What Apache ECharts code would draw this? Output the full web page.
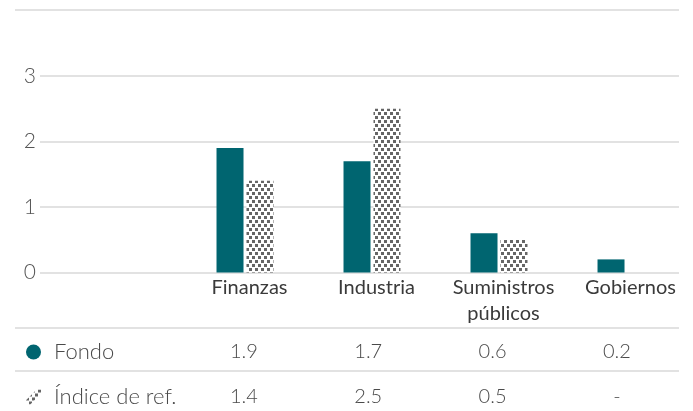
<!DOCTYPE html>
<html><head><meta charset="utf-8">
<script src="https://cdn.jsdelivr.net/npm/echarts@6/dist/echarts.min.js"></script>
<style>html,body{margin:0;padding:0;background:#fff}#c{width:693px;height:411px}</style>
</head><body><div id="c"></div>
<script>
// ---- data ----
const categories = ['Finanzas', 'Industria', 'Suministros\npúblicos', 'Gobiernos'];
const fondo = [1.9, 1.7, 0.6, 0.2];
const indice = [1.4, 2.5, 0.5, null];
const seriesNames = ['Fondo', 'Índice de ref.'];
const yTicks = [0, 1, 2, 3];

// ---- styles ----
const TEAL = '#006570';
const FONT = 'Lato';
const GRID_C = '#e2e2e2';

function makePattern() {
  const c = document.createElement('canvas');
  c.width = 6; c.height = 8;
  const g = c.getContext('2d');
  g.fillStyle = '#ffffff'; g.fillRect(0, 0, 6, 8);
  g.fillStyle = '#666666';
  g.fillRect(0, 0, 3, 3);
  g.fillRect(3, 4, 3, 3);
  return c;
}
const hatch = { image: makePattern(), repeat: 'repeat' };

const fmt = v => (v == null ? '-' : v.toFixed(1));
const row1 = [''].concat(fondo.map(fmt));
const row2 = [''].concat(indice.map(fmt));

const chart = echarts.init(document.getElementById('c'), null, { renderer: 'canvas' });

const hiddenY = (gi) => ({ type: 'value', gridIndex: gi, min: 0, max: 3, show: false });
const tableX = (gi, data) => ({
  type: 'category', gridIndex: gi, data: data, position: 'bottom',
  axisLine: { show: false }, axisTick: { show: false }, splitLine: { show: false },
  axisLabel: { interval: 0, margin: 21, verticalAlign: 'middle', color: '#4a4a4a',
    fontFamily: FONT, fontWeight: 300, fontSize: 20 }
});
const legendText = { fontFamily: FONT, fontWeight: 300, fontSize: 22, color: '#4a4a4a',
  lineHeight: 24, padding: [0, 0, 0, 8] };

chart.setOption({
  animation: false,
  backgroundColor: '#fff',
  textStyle: { fontFamily: FONT },
  grid: [
    { left: 40, right: 14, top: 76, height: 196.5 },
    { left: 54.5, right: 3.5, top: 76, height: 196.5 },
    { left: 57.5, right: 14, top: 330, height: 1 },
    { left: 57.5, right: 14, top: 375, height: 1 }
  ],
  xAxis: [
    { type: 'category', gridIndex: 0, data: ['', '', '', '', ''], show: false },
    { type: 'category', gridIndex: 1, data: [''].concat(categories),
      axisLine: { show: false }, axisTick: { show: false },
      axisLabel: { interval: 0, margin: 2, color: '#3a3a3a', fontFamily: FONT,
        fontSize: 20, lineHeight: 26, padding: [0, 0, 0, 9] } },
    tableX(2, row1),
    tableX(3, row2)
  ],
  yAxis: [
    { type: 'value', gridIndex: 0, min: 0, max: 3, interval: 1,
      axisLine: { show: false }, axisTick: { show: false },
      splitLine: { lineStyle: { color: GRID_C, width: 2 } },
      axisLabel: { margin: 4, color: '#555', fontFamily: FONT, fontWeight: 300, fontSize: 21,
        formatter: v => (yTicks.indexOf(v) >= 0 ? String(v) : '') } },
    hiddenY(1), hiddenY(2), hiddenY(3)
  ],
  legend: [
    { left: 21, top: 335, itemWidth: 15, itemHeight: 15, selectedMode: false,
      textStyle: legendText, data: [{ name: seriesNames[0], icon: 'circle' }] },
    { left: 21, top: 380, itemWidth: 15, itemHeight: 15, selectedMode: false,
      textStyle: legendText,
      data: [{ name: seriesNames[1], icon: 'path://M0,14 L0,10 L10,0 L14,0 L14,4 L4,14 Z' }] }
  ],
  graphic: [10, 328, 371].map(y => ({
    type: 'line', silent: true,
    shape: { x1: 15, y1: y, x2: 679, y2: y },
    style: { stroke: GRID_C, lineWidth: 2 }
  })),
  series: [
    { name: seriesNames[0], type: 'bar', xAxisIndex: 1, yAxisIndex: 1,
      data: [null].concat(fondo), barWidth: 27, barGap: '11%',
      itemStyle: { color: TEAL } },
    { name: seriesNames[1], type: 'bar', xAxisIndex: 1, yAxisIndex: 1,
      data: [null].concat(indice), barWidth: 27, barGap: '11%',
      itemStyle: { color: hatch } }
  ]
});
</script></body></html>
